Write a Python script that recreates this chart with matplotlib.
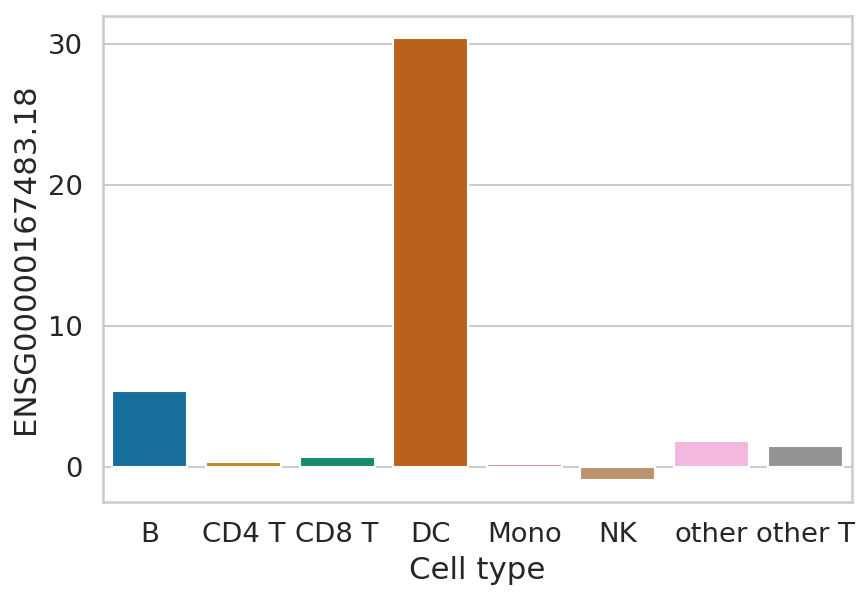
import numpy as np
import pandas as pd
import matplotlib
matplotlib.use("Agg")
import matplotlib.pyplot as plt
from matplotlib.ticker import MultipleLocator
import seaborn as sns

cell_types = ["B", "CD4 T", "CD8 T", "DC", "Mono", "NK", "other", "other T"]
values = [5.37, 0.3, 0.68, 30.4, 0.2, -0.94, 1.82, 1.47]
gene = "ENSG00000167483.18"

sns.set_theme(style="whitegrid", font_scale=1.2)

df = pd.DataFrame({"Cell type": cell_types, gene: values})

fig = plt.figure(figsize=(868 / 150, 597 / 150), dpi=150)
ax = fig.add_axes([103 / 868, 1 - 502 / 597, (852 - 103) / 868, (502 - 16) / 597])
sns.barplot(data=df, x="Cell type", y=gene, hue="Cell type",
            palette="colorblind", legend=False, ax=ax)
ax.yaxis.set_major_locator(MultipleLocator(10))
ax.set_xlabel("Cell type", fontsize=14.8)
ax.set_ylabel(gene, fontsize=14.8)

fig.savefig("out.png", dpi=150)
